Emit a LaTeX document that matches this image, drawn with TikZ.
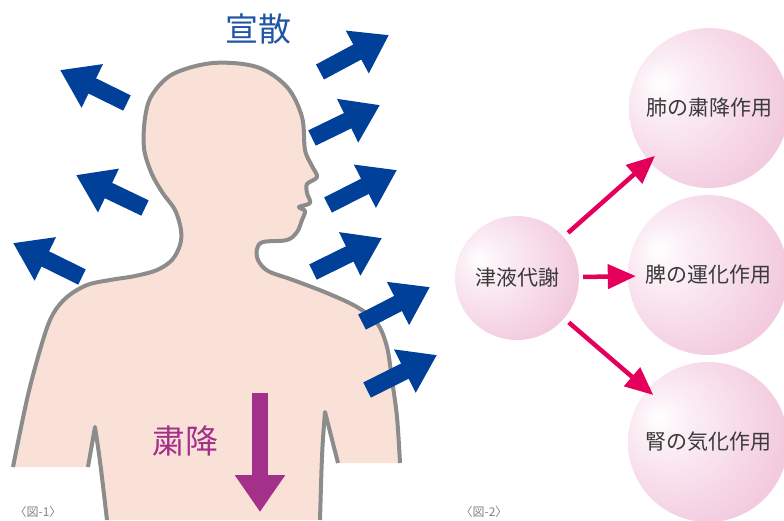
\documentclass[tikz,border=0pt]{standalone}
\usepackage{fontspec}
\setmainfont{Noto Sans CJK JP}
\usepackage{xcolor}
\usetikzlibrary{arrows.meta}

\definecolor{skin}{RGB}{250,225,215}
\definecolor{outline}{RGB}{140,140,140}
\definecolor{qiblue}{RGB}{0,64,152}
\definecolor{labelblue}{RGB}{32,84,165}
\definecolor{descend}{RGB}{163,49,138}
\definecolor{ballpink}{RGB}{236,174,206}
\definecolor{flowred}{RGB}{228,0,90}
\definecolor{textgray}{RGB}{58,58,58}
\pgfdeclareradialshading{pinkball}{\pgfpoint{-16bp}{8bp}}{color(0bp)=(white); color(8bp)=(white!80!ballpink); color(32bp)=(white!35!ballpink); color(62bp)=(ballpink)}

\begin{document}
\begin{tikzpicture}[x=1pt,y=-1pt]
\useasboundingbox (0,0) rectangle (784,520);
\clip (0,0) rectangle (784,520);

% body silhouette
\def\silhouette{plot[smooth,tension=0.55] coordinates {
  (13,467) (28,395) (43,340) (53,314) (67,297) (87,285) (110,280) (135,276) (157,270)
  (172,260) (180,245) (181,230) (175,210) (162,192) (151,172) (144,148) (145,118)
  (152,95) (173,74) (213,63) (257,67) (287,87) (302,117) (305,150) (312,166)
  (317,177) (307,184) (307,193) (310,203) (299,207) (305,211) (302,220) (297,232)
  (287,240) (263,242) (257,249) (258,260) (268,271) (293,280) (327,293) (357,307)
  (377,323) (387,347) (392,380) (397,417) (400,463)}}
\begin{scope}[line width=4pt, draw=outline, line join=round]
  \fill[skin] \silhouette -- (338,463) -- (325,412) -- (320,520) -- (107,520)
    -- (95,427) -- (88,467) -- cycle;
  \draw \silhouette;
  \draw (338,463) -- (325,412) .. controls (322,450) .. (320,520);
  \draw (88,467) -- (95,427) .. controls (100,460) .. (107,520);
\end{scope}

% qi flowing outward
\begin{scope}[qiblue, line width=17pt, -{Triangle[length=36pt,width=46pt]}]
  \foreach \tx/\ty/\hx/\hy in {127/103/60/70, 145/208/76/175, 82/277/13/243,
      320/72/389/35, 312/138/380/105, 328/205/397/170, 313/272/382/238,
      362/322/430/287, 367/390/437/355}
    \draw (\tx,\ty) -- (\hx,\hy);
\end{scope}
\draw[descend, line width=16pt, -{Triangle[length=37pt,width=48pt]}] (260,393) -- (260,512);

\node[text=labelblue, font=\fontsize{33}{36}\selectfont] (spread) at (258,29) {宣散};
\node[text=descend, font=\fontsize{33}{36}\selectfont] (descent) at (185,441) {粛降};

\begin{scope}[every node/.style={circle, shading=pinkball, inner sep=0pt,
              font=\fontsize{21}{24}\selectfont, text=textgray}]
  \node[minimum size=124pt] (fluid) at (517,278) {津液代謝};
  \node[minimum size=160pt] (lung) at (709,108) {肺の粛降作用};
  \node[minimum size=160pt] (spleen) at (708,275) {脾の運化作用};
  \node[minimum size=160pt] (kidney) at (708,442) {腎の気化作用};
\end{scope}

\begin{scope}[every edge/.style={draw=flowred, line width=4.5pt,
              -{Triangle[length=28pt,width=24pt]}, shorten >=-8pt}]
  \path (fluid) edge[shorten <=6pt] (lung);
  \path (fluid) edge[shorten <=4pt] (spleen);
  \path (fluid) edge[shorten <=6pt] (kidney);
\end{scope}

\begin{scope}[every node/.style={text=gray, font=\fontsize{12}{14}\selectfont}]
  \node (figone) at (38,512) {〈図-1〉};
  \node (figtwo) at (484,512) {〈図-2〉};
\end{scope}
\end{tikzpicture}
\end{document}
